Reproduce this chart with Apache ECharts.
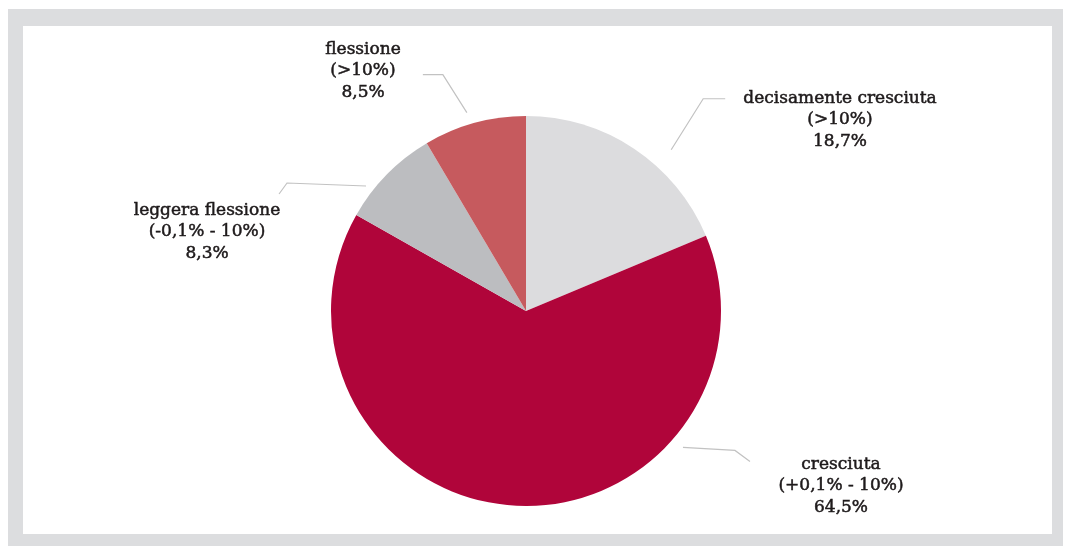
<!DOCTYPE html>
<html>
<head>
<meta charset="utf-8">
<script src="https://cdn.jsdelivr.net/npm/echarts@6/dist/echarts.min.js"></script>
<style>
  html, body { margin: 0; padding: 0; background: #ffffff; }
  #frame { position: absolute; left: 8px; top: 9px; width: 1055px; height: 537px; background: #dcdddf; }
  #chart { position: absolute; left: 23px; top: 26px; width: 1029px; height: 508px; background: #ffffff; }
</style>
</head>
<body>
<div id="frame"></div>
<div id="chart"></div>
<script>
const categories = ['decisamente cresciuta', 'cresciuta', 'leggera flessione', 'flessione'];
const ranges = ['(>10%)', '(+0,1% - 10%)', '(-0,1% - 10%)', '(>10%)'];
const values = [18.7, 64.5, 8.3, 8.5];
const colors = ['#dcdcde', '#b0053a', '#bcbdc0', '#c65a5e'];

// layout constants (px in chart container)
const CENTER = [503, 285];
const RADIUS = 195;
const labelPos = [[817, 94], [818, 460], [184, 206], [340, 45]];
// leader line style: start angle (deg, clockwise from top), start radius, two segment offsets
const leaderAngle = [42, 131, 308, 343.4];
const leaderR = [217, 208, 203, 207];
const leaderSeg1 = [[32, -51], [52, 3], [-79, -3], [-24, -38]];
const leaderSeg2 = [[22, 0], [15, 11], [-8, 11], [-20, 0]];

function leaderPoints(i) {
  const a = leaderAngle[i] * Math.PI / 180;
  const p0 = [CENTER[0] + leaderR[i] * Math.sin(a), CENTER[1] - leaderR[i] * Math.cos(a)];
  const p1 = [p0[0] + leaderSeg1[i][0], p0[1] + leaderSeg1[i][1]];
  const p2 = [p1[0] + leaderSeg2[i][0], p1[1] + leaderSeg2[i][1]];
  return [p0, p1, p2];
}

const chart = echarts.init(document.getElementById('chart'));
chart.setOption({
  animation: false,
  series: [{
    type: 'pie',
    center: CENTER,
    radius: RADIUS,
    startAngle: 90,
    clockwise: true,
    data: categories.map((c, i) => ({ name: c, value: values[i], itemStyle: { color: colors[i] } })),
    itemStyle: { borderWidth: 0 },
    emphasis: { disabled: true },
    label: {
      show: true,
      position: 'outside',
      fontFamily: 'DejaVu Serif',
      fontSize: 17,
      lineHeight: 21.5,
      color: '#1e1a1b',
      textBorderColor: '#1e1a1b',
      textBorderWidth: 0.5,
      align: 'center',
      formatter: (p) => p.name + '\n' + ranges[p.dataIndex] + '\n' + String(p.value).replace('.', ',') + '%'
    },
    labelLine: {
      show: true,
      length: 20,
      length2: 18,
      lineStyle: { color: '#c2c2c2', width: 1.2 }
    },
    labelLayout: (params) => ({
      x: labelPos[params.dataIndex][0],
      y: labelPos[params.dataIndex][1],
      align: 'center',
      verticalAlign: 'middle',
      labelLinePoints: leaderPoints(params.dataIndex)
    })
  }]
});
</script>
</body>
</html>
